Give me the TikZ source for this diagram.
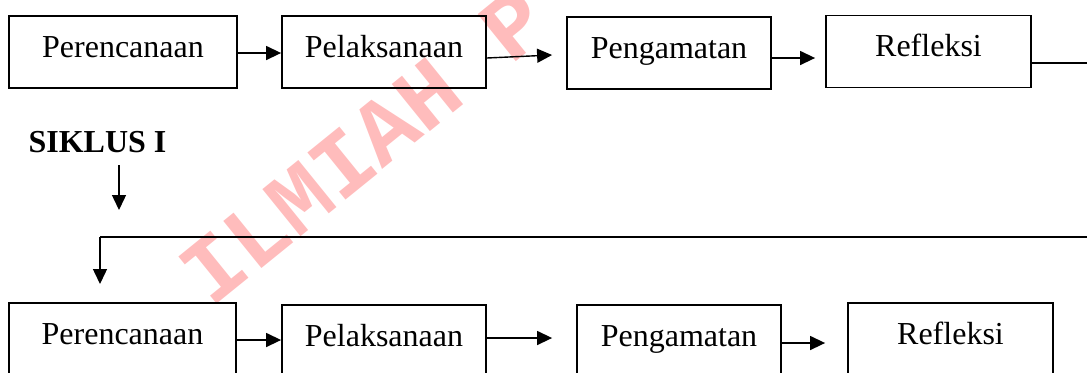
\documentclass[tikz,border=0pt]{standalone}
\usepackage{fontspec}
\setmainfont{Liberation Serif}
\newfontfamily\markfont{Liberation Mono}
\usepackage{xcolor}
\usepackage{tikz}
\usetikzlibrary{arrows.meta,positioning,calc}

\definecolor{markred}{RGB}{255,188,188}
\tikzset{
  box/.style={draw, line width=0.9pt, minimum height=36pt, inner sep=0pt,
    text height=11pt, text depth=6pt, font=\fontsize{16}{19}\selectfont},
  arr/.style={line width=0.7pt, -{Triangle[length=7.5pt,width=7pt]}},
  ln/.style={line width=0.7pt}
}

\begin{document}
\begin{tikzpicture}[x=0.5pt,y=-0.5pt]
\useasboundingbox (0,0) rectangle (1087,372);
\clip (0,0) rectangle (1087,372);
% watermark
\node[anchor=base west, rotate=39, text=markred, inner sep=0pt,
  font=\markfont\bfseries\fontsize{46}{46}\selectfont] (mark) at (211,309) {ILMIAH P};
% siklus I
\node[box, minimum width=114pt] (per1) at (123,52) {Perencanaan};
\node[box, minimum width=102pt] (pel1) at (384,52) {Pelaksanaan};
\node[box, minimum width=102pt] (pen1) at (669,53) {Pengamatan};
\node[box, minimum width=102.5pt] (ref1) at (928.5,51.5) {Refleksi};
\draw[arr] (per1.east |- 0,53) -- (pel1.west |- 0,53);
\draw[arr] ([yshift=-3]pel1.east) -- ([xshift=-7pt,yshift=-1]pen1.west);
\draw[arr] (pen1.east |- 0,58) -- ([xshift=-5pt]ref1.west |- 0,58);
\coordinate (out1) at (1092,63);
\draw[ln] (ref1.east |- out1) -- (out1);
\node[font=\fontsize{16}{19}\selectfont\bfseries, anchor=base, inner sep=0pt] (siklus) at (97.5,152) {SIKLUS I};
\coordinate (s1) at (119,165);
\coordinate (s2) at (119,210);
\draw[arr] (s1) -- (s2);
% siklus II
\node[box, minimum width=113.5pt] (per2) at (122.5,339) {Perencanaan};
\node[box, minimum width=102pt] (pel2) at (384,341) {Pelaksanaan};
\node[box, minimum width=102pt] (pen2) at (679,341) {Pengamatan};
\node[box, minimum width=102.5pt] (ref2) at (950.5,339) {Refleksi};
\coordinate (back) at (1092,237);
\coordinate (turn) at (100,237);
\coordinate (down) at (100,284);
\draw[ln] (back) -- (turn);
\draw[arr] (turn) -- (down);
\draw[arr] (per2.east |- 0,340) -- (pel2.west |- 0,340);
\draw[arr] (pel2.east |- 0,338) -- ([xshift=-12pt]pen2.west |- 0,338);
\draw[arr] (pen2.east |- 0,343) -- ([xshift=-11pt]ref2.west |- 0,343);
\end{tikzpicture}
\end{document}
